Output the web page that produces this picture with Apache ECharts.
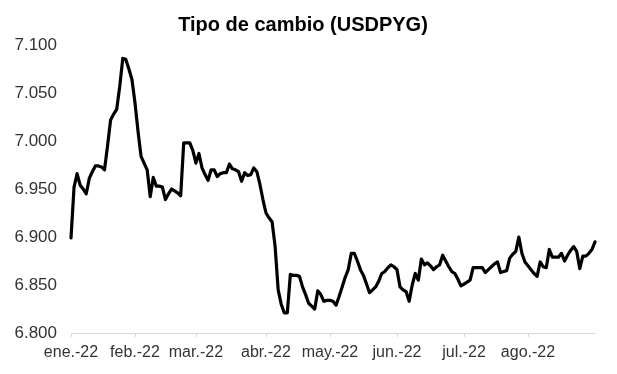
<!DOCTYPE html>
<html>
<head>
<meta charset="utf-8">
<script src="https://cdn.jsdelivr.net/npm/echarts@6/dist/echarts.min.js"></script>
<style>html,body{margin:0;padding:0;background:#fff;}#c{width:617px;height:374px;}</style>
</head>
<body>
<div id="c"></div>
<script>
const title = 'Tipo de cambio (USDPYG)';
const monthLabels = ['ene.-22','feb.-22','mar.-22','abr.-22','may.-22','jun.-22','jul.-22','ago.-22'];
const startDate = '2022-01-03';
const endDate = '2022-08-31';
const yTicks = [6.8, 6.85, 6.9, 6.95, 7.0, 7.05, 7.1];
const usdpyg = [
6.899,6.952,6.966,6.954,6.950,6.945,6.961,6.968,6.974,6.974,
6.973,6.970,6.995,7.022,7.028,7.033,7.057,7.086,7.085,7.075,
7.064,7.040,7.010,6.984,6.977,6.970,6.942,6.962,6.953,6.953,
6.952,6.939,6.945,6.950,6.948,6.946,6.943,6.998,6.998,6.998,
6.990,6.977,6.987,6.972,6.965,6.959,6.970,6.970,6.963,6.966,
6.967,6.967,6.976,6.971,6.970,6.968,6.958,6.967,6.964,6.965,
6.972,6.968,6.955,6.939,6.925,6.920,6.916,6.890,6.845,6.830,
6.821,6.821,6.861,6.860,6.860,6.859,6.848,6.840,6.831,6.828,
6.825,6.844,6.840,6.833,6.834,6.834,6.833,6.829,6.838,6.848,
6.858,6.866,6.883,6.883,6.875,6.866,6.860,6.851,6.842,6.845,
6.848,6.854,6.862,6.864,6.868,6.871,6.869,6.866,6.848,6.845,
6.843,6.833,6.850,6.862,6.855,6.877,6.871,6.873,6.870,6.866,
6.869,6.871,6.881,6.875,6.869,6.864,6.862,6.856,6.849,6.851,
6.853,6.855,6.868,6.868,6.868,6.868,6.863,6.866,6.869,6.872,
6.874,6.863,6.864,6.865,6.878,6.882,6.885,6.900,6.883,6.874,
6.870,6.866,6.862,6.859,6.874,6.869,6.868,6.887,6.879,6.879,
6.879,6.883,6.875,6.881,6.886,6.890,6.885,6.867,6.880,6.880,
6.883,6.887,6.895
];

// business-day categories
const dates = [];
const months = [];
for (let d = new Date(startDate + 'T00:00:00Z'); d <= new Date(endDate + 'T00:00:00Z'); d.setUTCDate(d.getUTCDate() + 1)) {
  const wd = d.getUTCDay();
  if (wd === 0 || wd === 6) continue;
  dates.push(d.toISOString().slice(0, 10));
  months.push(d.getUTCMonth());
}
const n = Math.min(dates.length, usdpyg.length);
const cats = dates.slice(0, n);
const isMonthStart = i => i === 0 || months[i] !== months[i - 1];

const chart = echarts.init(document.getElementById('c'), null, {renderer: 'canvas'});
const font = "'Liberation Sans', Arial, sans-serif";
chart.setOption({
  animation: false,
  backgroundColor: '#fff',
  title: {
    text: title,
    left: 298,
    top: 10,
    textAlign: 'center',
    textStyle: {fontFamily: font, fontSize: 20, fontWeight: 'bold', color: '#000'}
  },
  grid: {left: 71, right: 22, top: 45, bottom: 41, containLabel: false},
  xAxis: {
    type: 'category',
    data: cats,
    boundaryGap: false,
    axisLine: {lineStyle: {color: '#d9d9d9', width: 1}},
    axisTick: {show: true, length: 4, interval: (i) => isMonthStart(i), lineStyle: {color: '#d9d9d9'}},
    axisLabel: {
      interval: (i) => isMonthStart(i),
      formatter: (v, i) => monthLabels[months[i]],
      fontFamily: font, fontSize: 16, color: '#333', margin: 12
    },
    splitLine: {show: false}
  },
  yAxis: {
    type: 'value',
    min: yTicks[0],
    max: yTicks[yTicks.length - 1],
    interval: 0.05,
    axisLine: {show: false},
    axisTick: {show: false},
    splitLine: {show: false},
    axisLabel: {
      formatter: v => v.toFixed(3),
      fontFamily: font, fontSize: 17, color: '#333', margin: 14
    }
  },
  series: [{
    type: 'line',
    data: usdpyg.slice(0, n),
    showSymbol: false,
    symbol: 'none',
    lineStyle: {color: '#000', width: 3.2, join: 'round', cap: 'round'}
  }]
});
</script>
</body>
</html>
